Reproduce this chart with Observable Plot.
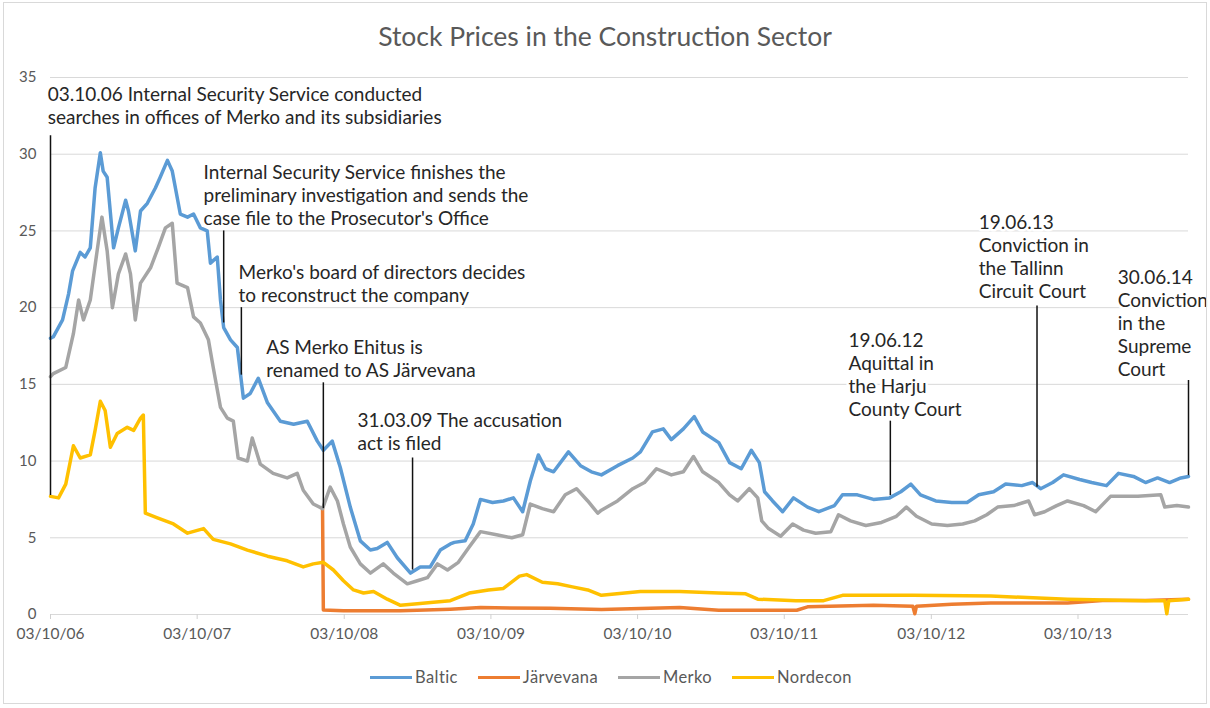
<!DOCTYPE html>
<html>
<head>
<meta charset="utf-8">
<script src="https://cdn.jsdelivr.net/npm/d3@7"></script>
<script src="https://cdn.jsdelivr.net/npm/@observablehq/plot@0.6"></script>
<style>
  html, body { margin: 0; padding: 0; background: #fff; }
  #chart { position: relative; width: 1210px; height: 708px; font-family: Lato, "Open Sans", sans-serif; overflow: hidden; }
  #frame { position: absolute; left: 3px; top: 2px; width: 1204px; height: 702px; border: 1px solid #d9d9d9; box-sizing: border-box; pointer-events: none; }
  #title { height: 60px; box-sizing: border-box; padding-top: 21px; text-align: center; font-size: 26.5px; line-height: 30px; color: #595959; }
  #legend { display: flex; justify-content: center; align-items: center; height: 34px; font-size: 16.5px; color: #595959; padding-left: 12px; letter-spacing: 0.4px; }
  .item { display: flex; align-items: center; margin: 0 10px; }
  .sw { width: 42px; height: 3px; margin-right: 3px; }
</style>
</head>
<body>
<div id="chart">
  <div id="frame"></div>
  <div id="title">Stock Prices in the Construction Sector</div>
  <div id="plot"></div>
  <div id="legend"></div>
</div>
<script>
const seriesNames = ["Baltic", "Järvevana", "Merko", "Nordecon"];
const seriesColors = ["#5B9BD5", "#ED7D31", "#A5A5A5", "#FFC000"];

const yTicks = [0, 5, 10, 15, 20, 25, 30, 35];
const xTickDates = ["2006-10-03", "2007-10-03", "2008-10-03", "2009-10-03", "2010-10-03", "2011-10-03", "2012-10-03", "2013-10-03"];
const xTickLabels = ["03/10/06", "03/10/07", "03/10/08", "03/10/09", "03/10/10", "03/10/11", "03/10/12", "03/10/13"];
const xDomain = ["2006-10-03", "2014-07-05"];

const baltic = [
  ["2006-10-03",18.0],["2006-10-10",18.1],["2006-11-02",19.2],["2006-11-17",20.9],["2006-11-27",22.4],
  ["2006-12-16",23.6],["2006-12-28",23.3],["2007-01-10",23.9],["2007-01-22",27.8],["2007-02-04",30.1],
  ["2007-02-11",28.9],["2007-02-21",28.5],["2007-03-09",23.9],["2007-03-21",25.2],["2007-04-08",27.0],
  ["2007-04-15",26.3],["2007-05-02",23.7],["2007-05-15",26.3],["2007-06-01",26.8],["2007-06-21",27.8],
  ["2007-07-03",28.5],["2007-07-21",29.6],["2007-08-02",28.9],["2007-08-22",26.1],["2007-09-09",25.9],
  ["2007-09-24",26.1],["2007-10-11",25.2],["2007-10-28",25.0],["2007-11-05",22.9],["2007-11-22",23.3],
  ["2007-11-30",20.5],["2007-12-08",18.7],["2007-12-25",17.9],["2008-01-11",17.4],["2008-01-26",14.1],
  ["2008-02-12",14.4],["2008-03-03",15.4],["2008-03-26",13.8],["2008-04-27",12.6],["2008-05-30",12.4],
  ["2008-07-03",12.6],["2008-07-28",11.3],["2008-08-12",10.7],["2008-09-03",11.3],["2008-09-23",9.6],
  ["2008-10-18",7.0],["2008-11-12",4.8],["2008-12-07",4.2],["2008-12-24",4.3],["2009-01-18",4.7],
  ["2009-02-12",3.7],["2009-03-17",2.7],["2009-04-10",3.1],["2009-05-05",3.1],["2009-05-30",4.2],
  ["2009-06-24",4.6],["2009-07-04",4.7],["2009-07-31",4.8],["2009-08-20",5.9],["2009-09-07",7.5],
  ["2009-10-07",7.3],["2009-11-03",7.4],["2009-11-28",7.6],["2009-12-21",6.7],["2010-01-09",8.7],
  ["2010-01-29",10.4],["2010-02-16",9.5],["2010-03-08",9.3],["2010-04-14",10.6],["2010-05-14",9.7],
  ["2010-06-10",9.3],["2010-07-05",9.1],["2010-08-14",9.7],["2010-09-21",10.2],["2010-10-10",10.6],
  ["2010-11-09",11.9],["2010-12-06",12.1],["2010-12-26",11.4],["2011-01-25",12.1],["2011-02-21",12.9],
  ["2011-03-14",11.9],["2011-04-23",11.2],["2011-05-20",9.9],["2011-06-18",9.5],["2011-07-13",10.7],
  ["2011-08-02",9.9],["2011-08-15",8.0],["2011-09-04",7.4],["2011-09-29",6.7],["2011-10-26",7.6],
  ["2011-11-30",7.0],["2011-12-28",6.7],["2012-02-05",7.1],["2012-02-25",7.8],["2012-04-02",7.8],
  ["2012-05-12",7.5],["2012-06-21",7.6],["2012-07-19",8.0],["2012-08-13",8.5],["2012-09-06",7.8],
  ["2012-10-14",7.4],["2012-11-23",7.3],["2012-12-31",7.3],["2013-01-29",7.8],["2013-03-07",8.0],
  ["2013-04-06",8.5],["2013-05-16",8.4],["2013-06-12",8.6],["2013-07-02",8.2],["2013-08-01",8.6],
  ["2013-08-28",9.1],["2013-10-07",8.8],["2013-11-06",8.6],["2013-12-13",8.4],["2014-01-12",9.2],
  ["2014-02-18",9.0],["2014-03-20",8.6],["2014-04-19",8.9],["2014-05-19",8.6],["2014-06-16",8.9],
  ["2014-07-05",9.0]
];

const jarvevana = [
  ["2008-08-10",6.9],["2008-08-12",0.3],["2008-10-01",0.25],["2009-02-20",0.25],["2009-06-24",0.35],
  ["2009-09-07",0.45],["2010-02-28",0.4],["2010-07-05",0.32],["2011-01-16",0.45],["2011-04-23",0.28],
  ["2011-11-03",0.28],["2011-11-30",0.5],["2012-05-12",0.6],["2012-08-18",0.54],["2012-08-23",0.05],
  ["2012-08-27",0.54],["2012-11-23",0.67],["2013-02-28",0.75],["2013-09-07",0.75],["2013-12-03",0.92],
  ["2014-03-20",0.92],["2014-07-05",1.0]
];

const merko = [
  ["2006-10-03",15.5],["2006-10-10",15.7],["2006-11-10",16.1],["2006-11-29",18.3],["2006-12-12",20.5],
  ["2006-12-24",19.2],["2007-01-10",20.5],["2007-01-27",23.7],["2007-02-08",25.9],["2007-02-21",23.7],
  ["2007-03-06",20.0],["2007-03-21",22.2],["2007-04-08",23.5],["2007-04-20",22.2],["2007-05-02",19.2],
  ["2007-05-15",21.6],["2007-06-09",22.6],["2007-06-28",23.9],["2007-07-16",25.2],["2007-08-02",25.5],
  ["2007-08-14",21.6],["2007-09-09",21.3],["2007-09-24",19.4],["2007-10-11",19.0],["2007-10-31",17.9],
  ["2007-11-12",16.1],["2007-11-30",13.5],["2007-12-17",12.8],["2008-01-01",12.6],["2008-01-13",10.2],
  ["2008-02-05",10.0],["2008-02-17",11.5],["2008-03-08",9.8],["2008-04-09",9.2],["2008-05-14",8.9],
  ["2008-06-08",9.2],["2008-06-23",8.1],["2008-07-18",7.2],["2008-08-10",6.9],["2008-08-29",8.3],
  ["2008-09-16",7.4],["2008-10-01",5.9],["2008-10-18",4.4],["2008-11-12",3.3],["2008-12-07",2.7],
  ["2009-01-08",3.3],["2009-02-02",2.7],["2009-03-09",2.0],["2009-04-03",2.2],["2009-04-28",2.4],
  ["2009-05-23",3.3],["2009-06-17",2.9],["2009-07-14",3.4],["2009-08-10",4.4],["2009-09-07",5.4],
  ["2009-10-17",5.2],["2009-11-24",5.0],["2009-12-21",5.2],["2010-01-09",7.2],["2010-02-08",6.9],
  ["2010-03-08",6.7],["2010-04-06",7.8],["2010-05-04",8.2],["2010-06-01",7.4],["2010-06-26",6.6],
  ["2010-07-05",6.8],["2010-08-14",7.4],["2010-09-21",8.2],["2010-10-20",8.6],["2010-11-19",9.5],
  ["2010-12-26",9.1],["2011-01-25",9.3],["2011-02-19",10.3],["2011-03-14",9.3],["2011-04-23",8.6],
  ["2011-05-20",7.8],["2011-06-09",7.4],["2011-07-08",8.2],["2011-07-29",7.6],["2011-08-08",6.1],
  ["2011-08-25",5.6],["2011-09-24",5.1],["2011-10-24",5.9],["2011-11-20",5.5],["2011-12-20",5.3],
  ["2012-01-27",5.4],["2012-02-15",6.5],["2012-03-16",6.1],["2012-04-23",5.8],["2012-06-01",6.0],
  ["2012-07-08",6.4],["2012-08-02",7.0],["2012-08-27",6.4],["2012-10-04",5.9],["2012-11-12",5.8],
  ["2012-12-20",5.9],["2013-01-19",6.1],["2013-02-18",6.5],["2013-03-17",7.0],["2013-04-26",7.1],
  ["2013-06-02",7.4],["2013-06-17",6.5],["2013-07-12",6.7],["2013-08-11",7.1],["2013-09-07",7.4],
  ["2013-10-17",7.1],["2013-11-16",6.7],["2013-12-23",7.7],["2014-01-22",7.7],["2014-03-01",7.7],
  ["2014-04-27",7.8],["2014-05-07",7.0],["2014-06-06",7.1],["2014-07-05",7.0]
];

const nordecon = [
  ["2006-10-03",7.7],["2006-10-23",7.6],["2006-11-10",8.5],["2006-11-29",11.0],["2006-12-16",10.2],
  ["2007-01-10",10.4],["2007-01-22",12.0],["2007-02-04",13.9],["2007-02-16",13.3],["2007-03-01",10.9],
  ["2007-03-18",11.8],["2007-04-12",12.2],["2007-04-28",12.0],["2007-05-15",12.8],["2007-05-22",13.0],
  ["2007-05-27",6.6],["2007-06-26",6.3],["2007-08-05",5.9],["2007-09-09",5.3],["2007-10-19",5.6],
  ["2007-11-12",4.9],["2007-12-25",4.6],["2008-02-05",4.2],["2008-03-26",3.8],["2008-05-14",3.5],
  ["2008-06-23",3.1],["2008-07-18",3.3],["2008-08-12",3.4],["2008-09-06",2.9],["2008-10-01",2.2],
  ["2008-10-26",1.6],["2008-11-20",1.4],["2008-12-15",1.5],["2009-01-18",1.0],["2009-02-20",0.6],
  ["2009-04-03",0.7],["2009-05-13",0.8],["2009-06-24",0.9],["2009-08-10",1.4],["2009-09-27",1.6],
  ["2009-11-03",1.7],["2009-12-13",2.5],["2009-12-31",2.6],["2010-02-08",2.1],["2010-03-18",2.0],
  ["2010-04-24",1.8],["2010-06-01",1.6],["2010-07-05",1.25],["2010-10-10",1.5],["2011-01-16",1.5],
  ["2011-04-23",1.4],["2011-06-29",1.35],["2011-07-29",1.0],["2011-11-01",0.9],["2012-01-09",0.9],
  ["2012-02-25",1.25],["2012-08-18",1.25],["2013-02-28",1.2],["2013-09-07",1.0],["2014-03-20",0.9],
  ["2014-05-07",0.9],["2014-05-12",0.05],["2014-05-17",0.9],["2014-07-05",1.0]
];

const eventDates = ["2006-10-03", "2007-12-08", "2008-01-21", "2008-08-12", "2009-03-22", "2012-06-23", "2013-06-23", "2014-07-05"];
const eventTop = [31.2, 25.0, 20.0, 15.1, 10.2, 12.6, 20.1, 15.25];
const eventBottom = [7.75, 19.0, 15.6, 6.9, 2.9, 7.75, 8.3, 9.05];

const labelDates = ["2006-09-26", "2007-10-19", "2008-01-14", "2008-03-23", "2008-11-05", "2012-03-11", "2013-01-29", "2014-01-10"];
const labelLevels = [34.5, 29.45, 22.95, 18.07, 13.3, 18.52, 26.2, 22.62];
const labelTexts = [
  "03.10.06 Internal Security Service conducted\nsearches in offices of Merko and its subsidiaries",
  "Internal Security Service finishes the\npreliminary investigation and sends the\ncase file to the Prosecutor's Office",
  "Merko's board of directors decides\nto reconstruct the company",
  "AS Merko Ehitus is\nrenamed to AS Järvevana",
  "31.03.09 The accusation\nact is filed",
  "19.06.12\nAquittal in\nthe Harju\nCounty Court",
  "19.06.13\nConviction in\nthe Tallinn\nCircuit Court",
  "30.06.14\nConviction\nin the\nSupreme\nCourt"
];

const parse = d3.utcParse("%Y-%m-%d");
const seriesData = [baltic, jarvevana, merko, nordecon];
const rows = seriesData.flatMap((s, i) => s.map(([d, v]) => ({name: seriesNames[i], date: parse(d), value: v})));
const events = eventDates.map((d, i) => ({date: parse(d), top: eventTop[i], bottom: eventBottom[i]}));
const labels = labelDates.map((d, i) => ({date: parse(d), value: labelLevels[i], text: labelTexts[i]}));

const chart = Plot.plot({
  width: 1210,
  height: 600,
  marginTop: 17,
  marginBottom: 46,
  marginLeft: 50,
  marginRight: 22,
  style: {fontFamily: "Lato, 'Open Sans', sans-serif", fontSize: "15px", background: "transparent"},
  x: {type: "utc", domain: xDomain.map(parse)},
  y: {domain: [0, 35]},
  color: {domain: seriesNames, range: seriesColors},
  marks: [
    Plot.gridY({ticks: yTicks, stroke: "#d9d9d9", strokeOpacity: 1}),
    Plot.axisY({ticks: yTicks, tickSize: 0, tickPadding: 14, fill: "#595959", fontSize: 15}),
    Plot.axisX({ticks: xTickDates.map(parse), tickFormat: (d, i) => xTickLabels[i], tickSize: 5, tickPadding: 8, stroke: "#d0d0d0", fill: "#595959", fontSize: 15.5}),
    Plot.line(rows, {x: "date", y: "value", z: "name", stroke: "name", strokeWidth: 3.5, strokeLinejoin: "round", strokeLinecap: "round"}),
    Plot.ruleX(events, {x: "date", y1: "top", y2: "bottom", stroke: "#111", strokeWidth: 1.5}),
    Plot.text(labels, {x: "date", y: "value", text: "text", textAnchor: "start", lineAnchor: "top", lineHeight: 1.21, fontSize: 19, fill: "#262626", stroke: "white", strokeWidth: 5})
  ]
});
document.getElementById("plot").appendChild(chart);

const legend = document.getElementById("legend");
seriesNames.forEach((n, i) => {
  const item = document.createElement("div");
  item.className = "item";
  const sw = document.createElement("span");
  sw.className = "sw";
  sw.style.background = seriesColors[i];
  const t = document.createElement("span");
  t.textContent = n;
  item.appendChild(sw);
  item.appendChild(t);
  legend.appendChild(item);
});
</script>
</body>
</html>
